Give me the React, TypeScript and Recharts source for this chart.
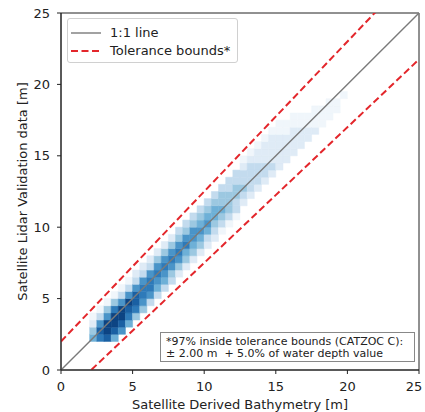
import {
  ComposedChart,
  Line,
  ReferenceArea,
  XAxis,
  YAxis,
} from "recharts";

// axes
const axisTicks = [0, 5, 10, 15, 20, 25];
const lineX = [0, 25];

// CATZOC C tolerance: ± 2.00 m + 5.0% of depth
const toleranceConst = 2.0;
const tolerancePct = 0.05;

// 2D histogram: 0.5 m bins
// one column per x bin, levels go upward from colY0 (0 = empty, 9 = densest)
const binSize = 0.5;
const colX = [
  2.0, 2.5, 3.0, 3.5, 4.0, 4.5, 5.0, 5.5, 6.0, 6.5, 7.0, 7.5, 8.0, 8.5, 9.0,
  9.5, 10.0, 10.5, 11.0, 11.5, 12.0, 12.5, 13.0, 13.5, 14.0, 14.5, 15.0, 15.5,
  16.0, 16.5, 17.0, 17.5, 18.0, 18.5, 19.0, 19.5,
];
const colY0 = [
  2.0, 2.0, 2.0, 2.0, 2.5, 3.0, 3.5, 4.0, 4.5, 5.0, 5.5, 6.0, 6.5, 7.0, 7.5,
  8.0, 8.5, 9.0, 9.5, 10.0, 10.5, 11.5, 12.0, 12.5, 13.0, 13.5, 14.0, 14.5,
  15.0, 15.5, 16.0, 16.5, 17.0, 17.5, 18.0, 19.0,
];
const colLevels = [
  "5421", "78631", "899641", "5899741", "6899631", "5789631", "4788632",
  "4677632", "3677632", "3567642", "3567642", "3467642", "2467643", "2457643",
  "2456643", "2456543", "2356543", "2345543", "1345443", "1344433", "1334433",
  "2343321", "2333321", "2333221", "2332221", "2322221", "2222211", "222211",
  "222211", "22211", "2211", "2111", "111", "111", "11", "1",
];

const levelColors = [
  "#ffffff", "#f0f6fb", "#dfebf6", "#c3dbee", "#9cc8e1",
  "#6eb0d7", "#4a94c8", "#2e7ab9", "#1a60a3", "#0d4483",
];

const chartData = lineX.map((x) => ({
  x,
  identity: x,
  upper: x + toleranceConst + tolerancePct * x,
  lower: x - toleranceConst - tolerancePct * x,
}));

const cells = colX.flatMap((x0, i) =>
  colLevels[i].split("").map((ch, j) => ({
    x1: x0,
    x2: x0 + binSize,
    y1: colY0[i] + j * binSize,
    y2: colY0[i] + (j + 1) * binSize,
    level: Number(ch),
  }))
);

const FONT = "DejaVu Sans";
const INK = "#222";

// last x tick sits on the page edge, nudge it in a little
const XTick = (props: any) => {
  const { x, y, payload } = props;
  const last = payload.value === axisTicks[axisTicks.length - 1];
  return (
    <text
      x={last ? x - 3 : x}
      y={y}
      dy="0.71em"
      textAnchor="middle"
      fill={INK}
      fontSize={13}
      fontFamily={FONT}
    >
      {payload.value}
    </text>
  );
};

export default function App() {
  return (
    <div
      style={{
        position: "absolute",
        left: 0,
        top: 0,
        width: 425,
        height: 412,
        fontFamily: FONT,
      }}
    >
      <ComposedChart
        width={425}
        height={412}
        data={chartData}
        margin={{ top: 13, right: 6, bottom: 0, left: 0 }}
      >
        <XAxis
          dataKey="x"
          type="number"
          domain={[0, 25]}
          ticks={axisTicks}
          allowDataOverflow
          height={42}
          tickSize={4}
          tickMargin={8}
          stroke={INK}
          tick={<XTick />}
          label={{
            value: "Satellite Derived Bathymetry [m]",
            position: "insideBottom",
            offset: 3,
            fill: INK,
            fontSize: 13,
            fontFamily: FONT,
          }}
        />
        <YAxis
          type="number"
          domain={[0, 25]}
          ticks={axisTicks}
          allowDataOverflow
          width={61}
          tickSize={4}
          tickMargin={7}
          stroke={INK}
          tick={{ fill: INK, fontSize: 13, fontFamily: FONT }}
          label={{
            value: "Satellite Lidar Validation data [m]",
            angle: -90,
            position: "insideLeft",
            offset: 22,
            fill: INK,
            fontSize: 13,
            fontFamily: FONT,
            style: { textAnchor: "middle" },
          }}
        />
        {cells.map((c, i) => (
          <ReferenceArea
            key={i}
            x1={c.x1}
            x2={c.x2}
            y1={c.y1}
            y2={c.y2}
            fill={levelColors[c.level]}
            fillOpacity={1}
            stroke={levelColors[c.level]}
            strokeWidth={0.5}
            ifOverflow="visible"
          />
        ))}
        <Line
          dataKey="identity"
          stroke="#7a7a7a"
          strokeWidth={1.4}
          dot={false}
          isAnimationActive={false}
        />
        <Line
          dataKey="upper"
          stroke="#e3262b"
          strokeWidth={2}
          strokeDasharray="7 3.5"
          dot={false}
          isAnimationActive={false}
        />
        <Line
          dataKey="lower"
          stroke="#e3262b"
          strokeWidth={2}
          strokeDasharray="7 3.5"
          dot={false}
          isAnimationActive={false}
        />
        <ReferenceArea
          x1={0}
          x2={25}
          y1={0}
          y2={25}
          fill="none"
          stroke={INK}
          strokeWidth={1}
          ifOverflow="visible"
        />
      </ComposedChart>

      {/* legend, top left inside the axes */}
      <div
        style={{
          position: "absolute",
          left: 67,
          top: 18,
          width: 169,
          height: 43,
          background: "rgba(255,255,255,0.85)",
          border: "1px solid #d0d0d0",
          borderRadius: 3,
          fontSize: 13,
          color: INK,
        }}
      >
        <svg width={34} height={43} style={{ position: "absolute", left: 3, top: 0 }}>
          <line x1={0} x2={30} y1={14} y2={14} stroke="#7a7a7a" strokeWidth={1.4} />
          <line x1={0} x2={30} y1={32} y2={32} stroke="#e3262b" strokeWidth={2} strokeDasharray="7 3.5" />
        </svg>
        <div style={{ position: "absolute", left: 42, top: 5, lineHeight: "18px" }}>1:1 line</div>
        <div style={{ position: "absolute", left: 42, top: 23, lineHeight: "18px" }}>Tolerance bounds*</div>
      </div>

      {/* annotation box, bottom right */}
      <div
        style={{
          position: "absolute",
          left: 160,
          top: 332,
          width: 255,
          height: 30,
          background: "#fff",
          border: "1px solid #888",
          fontSize: 11,
          lineHeight: "12px",
          color: INK,
          padding: "3px 0 0 5px",
          boxSizing: "border-box",
          whiteSpace: "pre",
        }}
      >
        <div>*97% inside tolerance bounds (CATZOC C):</div>
        <div>± 2.00 m  + 5.0% of water depth value</div>
      </div>
    </div>
  );
}
